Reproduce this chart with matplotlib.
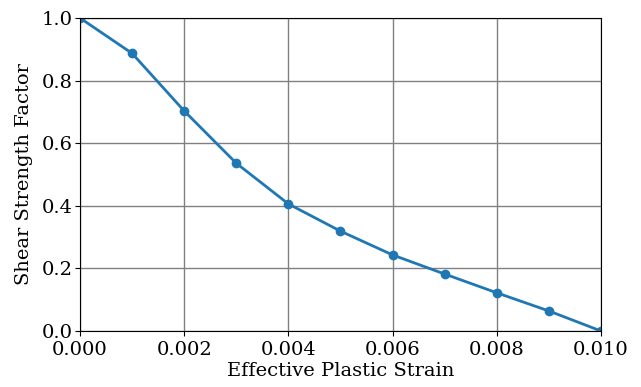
import numpy as np
import matplotlib
matplotlib.use('Agg')
import matplotlib.pyplot as plt

plt.rcParams['font.family'] = 'DejaVu Serif'

strain = [0.000, 0.001, 0.002, 0.003, 0.004, 0.005, 0.006, 0.007, 0.008, 0.009, 0.010]
factor = [1.0, 0.887, 0.703, 0.536, 0.406, 0.319, 0.243, 0.182, 0.122, 0.064, 0.0]

fig = plt.figure(figsize=(6.41, 3.87), dpi=100)
ax = fig.add_axes([0.1248, 0.1447, 0.8128, 0.8088])
ax.plot(strain, factor, color='#1f77b4', linewidth=2, marker='o', markersize=6)
ax.set_xlim(0, 0.010)
ax.set_ylim(0, 1.0)
ax.set_xticks(np.arange(0, 0.0101, 0.002))
ax.set_yticks(np.arange(0, 1.01, 0.2))
ax.xaxis.set_major_formatter(matplotlib.ticker.FormatStrFormatter('%.3f'))
ax.yaxis.set_major_formatter(matplotlib.ticker.FormatStrFormatter('%.1f'))
ax.grid(True, color='gray', linewidth=1)
ax.set_axisbelow(True)
ax.tick_params(axis='x', labelsize=14, pad=4)
ax.tick_params(axis='y', labelsize=14, pad=2)
ax.set_xlabel('Effective Plastic Strain', fontsize=14, labelpad=2)
ax.set_ylabel('Shear Strength Factor', fontsize=14, labelpad=6)

fig.savefig('out.png', dpi=100)
